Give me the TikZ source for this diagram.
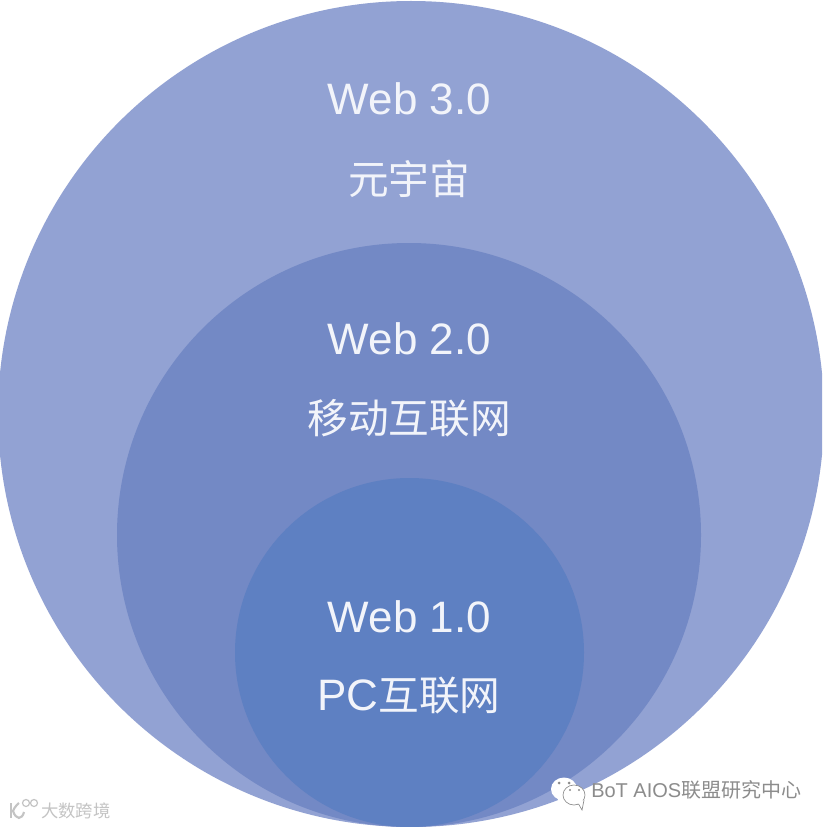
\documentclass[tikz,border=0pt]{standalone}
\usepackage{fontspec}
\setmainfont{Liberation Sans}
\newfontfamily\cjk{Noto Sans CJK SC}
\definecolor{cOuter}{HTML}{92A2D3}
\definecolor{cMid}{HTML}{7389C5}
\definecolor{cInner}{HTML}{5E80C2}
\definecolor{cText}{HTML}{F2F4FA}
\definecolor{cMark}{HTML}{C4C4C4}
\definecolor{cMarkB}{HTML}{8C8C8C}
\tikzset{
  ring/.style={draw=none,circle,inner sep=0pt,minimum size=#1},
  lat/.style={text=cText,inner sep=0pt,font=\fontsize{33pt}{33pt}\selectfont},
  han/.style={text=cText,inner sep=0pt,font=\cjk\fontsize{30.5pt}{30.5pt}\selectfont},
}
\begin{document}
\begin{tikzpicture}[x=0.75pt,y=-0.75pt]
\useasboundingbox[fill=white] (0,0) rectangle (822,827);
\clip (0,0) rectangle (822,827);
\node[ring=826*0.75pt,fill=cOuter] (outer) at (411,414) {};
\node[ring=584*0.75pt,fill=cMid] (mid) at (409,535) {};
\node[ring=349*0.75pt,fill=cInner] (inner) at (409.5,652.5) {};
\node[lat] (t3) at (409.5,99) {Web 3.0};
\node[han] (c3) at (409,179) {元宇宙};
\node[lat] (t2) at (409.5,339) {Web 2.0};
\node[han] (c2) at (409,418) {移动互联网};
\node[lat] (t1) at (409.5,617) {Web 1.0};
\node[han] (c1) at (409,696) {\fontsize{33pt}{33pt}\selectfont\setmainfont{Liberation Sans}PC\cjk\fontsize{30.5pt}{30.5pt}\selectfont 互联网};
% WeChat mark
\fill[white] (564,789) ellipse [x radius=13,y radius=11.5];
\fill[white] (557,797) -- (560,805) -- (567,799) -- cycle;
\fill[cMarkB] (559,783) circle (1.5) (569,783) circle (1.5);
\draw[cMarkB,fill=white,line width=0.5pt] (574,795) ellipse [x radius=11,y radius=10];
\draw[cMarkB,fill=white,line width=0.5pt] (578,803) -- (582,810) -- (584,800);
\fill[white] (572,800) -- (583,800) -- (579,804) -- cycle;
\fill[cMarkB] (570,790) circle (1.2) (579,790) circle (1.2);
\node[inner sep=0pt,anchor=west,text=cMarkB,font=\fontsize{15pt}{15pt}\selectfont] (wm1) at (591,790) {BoT AIOS\cjk 联盟研究中心};
% left mark
\draw[cMark,line width=1.6pt] (11,803) -- (11,818);
\draw[cMark,line width=1.6pt] (22,804) arc (60:-110:0pt) (24,812) .. controls (22,820) and (16,820) .. (13,811) .. controls (15,806) and (18,804) .. (19,803);
\draw[cMark,line width=0.9pt] (26,803) circle (3.5) (34,803) circle (3.5);
\node[inner sep=0pt,anchor=west,text=cMark,font=\cjk\fontsize{13pt}{13pt}\selectfont] (wm2) at (41,811) {大数跨境};
\end{tikzpicture}
\end{document}
